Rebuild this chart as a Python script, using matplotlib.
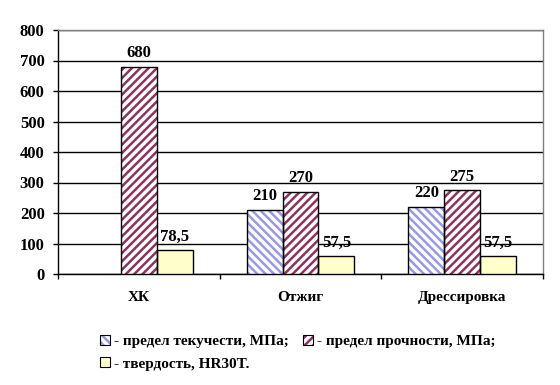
import numpy as np
import matplotlib
matplotlib.use("Agg")
import matplotlib.pyplot as plt
from matplotlib.patches import Patch

categories = ["ХК", "Отжиг", "Дрессировка"]
yield_strength = [np.nan, 210, 220]
tensile_strength = [680, 270, 275]
hardness = [78.5, 57.5, 57.5]
series_labels = ["- предел текучести, МПа;", "- предел прочности, МПа;",
                 "- твердость, HR30T."]
yticks = [0, 100, 200, 300, 400, 500, 600, 700, 800]

plt.rcParams["font.family"] = ["Liberation Serif", "DejaVu Serif"]
plt.rcParams["font.weight"] = "bold"
plt.rcParams["font.size"] = 12
plt.rcParams["hatch.linewidth"] = 1.8

fig = plt.figure(figsize=(5.6, 3.85), dpi=100)
ax = fig.add_axes([58 / 560, 1 - 274 / 385, (543 - 58) / 560, (274 - 30) / 385])

x = np.arange(len(categories))
w = 0.222
styles = [
    dict(face="white", hatch_col="#9999e0", hatch="\\\\\\\\"),
    dict(face="white", hatch_col="#8a3560", hatch="////"),
    dict(face="#ffffcc", hatch_col="#ffffcc", hatch=None),
]
series = [yield_strength, tensile_strength, hardness]

for i, (vals, st) in enumerate(zip(series, styles)):
    pos = x + (i - 1) * w
    ax.bar(pos, vals, w, color=st["face"], edgecolor=st["hatch_col"],
           hatch=st["hatch"], linewidth=0, zorder=3)
    ax.bar(pos, vals, w, facecolor="none", edgecolor="black",
           linewidth=1, zorder=4)
    for p, v in zip(pos, vals):
        if np.isnan(v):
            continue
        txt = f"{v:g}".replace(".", ",")
        ax.annotate(txt, (p, v), xytext=(0, 4), textcoords="offset points",
                    ha="center", va="bottom", fontsize=12, fontweight="bold")

ax.set_xlim(-0.5, 2.5)
ax.set_ylim(0, 800)
ax.set_yticks(yticks)
ax.yaxis.grid(True, color="black", linewidth=1)
ax.set_axisbelow(True)
ax.tick_params(axis="y", direction="out", length=3.6, width=1, pad=6,
               labelsize=12)

ax.set_xticks(x)
ax.set_xticklabels(categories)
ax.set_xticks([-0.5, 0.5, 1.5, 2.5], minor=True)
ax.tick_params(axis="x", which="major", length=0, pad=12, labelsize=11)
ax.tick_params(axis="x", which="minor", direction="out", length=3.6, width=1)

for s in ["left", "bottom"]:
    ax.spines[s].set_color("black")
    ax.spines[s].set_linewidth(1)
for s in ["top", "right"]:
    ax.spines[s].set_color("#808080")
    ax.spines[s].set_linewidth(1)

handles = []
for st in styles:
    fill = Patch(facecolor=st["face"], edgecolor=st["hatch_col"],
                 hatch=st["hatch"], linewidth=0)
    border = Patch(facecolor="none", edgecolor="black", linewidth=0.8)
    handles.append((fill, border))

order = [0, 2, 1]
fig.legend([handles[i] for i in order], [series_labels[i] for i in order],
           ncol=2, loc="upper left", bbox_to_anchor=(92 / 560, 1 - 327 / 385),
           frameon=False, handlelength=0.65, handleheight=0.65,
           handletextpad=0.3, columnspacing=0.9, labelspacing=0.6,
           borderpad=0, prop={"weight": "bold", "size": 11})

fig.savefig("out.png", dpi=100)
